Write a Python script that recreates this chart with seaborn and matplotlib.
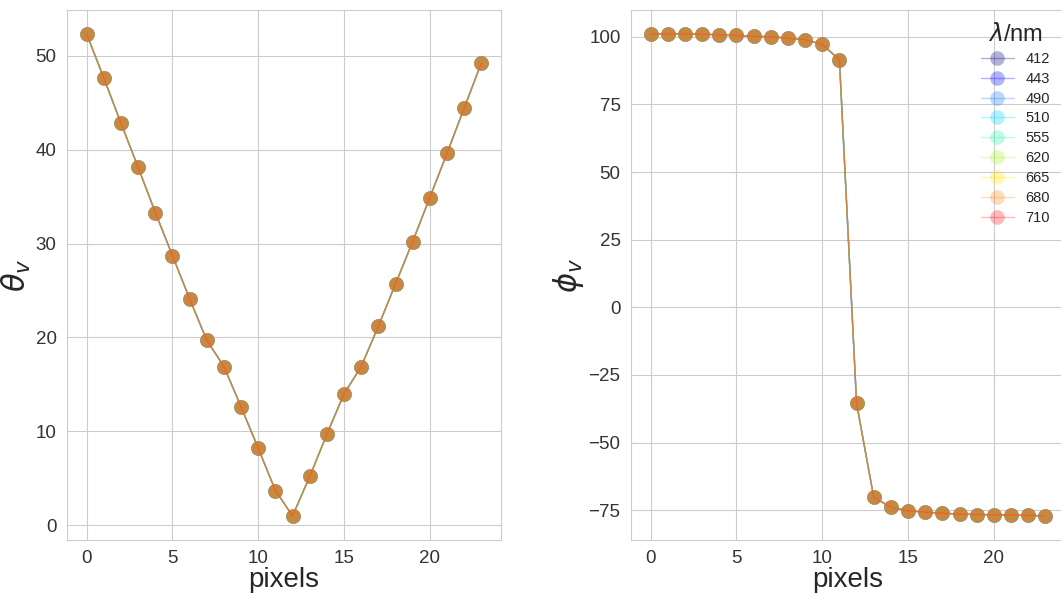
import numpy as np
import pandas as pd
import seaborn as sns
import matplotlib
matplotlib.use('Agg')
import matplotlib.pyplot as plt

# pixel index along the scan
pixels = list(range(24))

# viewing zenith angle (same for every band)
theta_v = [52.3, 47.6, 42.8, 38.1, 33.3, 28.7, 24.1, 19.7, 16.9, 12.6, 8.2, 3.7,
           1.0, 5.2, 9.7, 14.0, 16.9, 21.2, 25.7, 30.2, 34.9, 39.6, 44.4, 49.2]

# viewing azimuth angle (same for every band)
phi_v = [101.0, 101.0, 101.0, 101.0, 100.7, 100.5, 100.2, 100.0, 99.5, 98.9, 97.2, 91.5,
         -35.5, -70.2, -73.9, -75.2, -75.7, -76.1, -76.4, -76.6, -76.7, -76.8, -76.9, -77.1]

# wavelengths (nm)
bandas = ['412', '443', '490', '510', '555', '620', '665', '680', '710']
cores = ['#000080', '#0000ff', '#1e7bff', '#00d5ff', '#2ef5a6',
         '#a8f52e', '#ffe600', '#ff8c1a', '#ff1a1a']

linhas = []
for b in bandas:
    for p, t, f in zip(pixels, theta_v, phi_v):
        linhas.append({'pixels': p, 'theta': t, 'phi': f, 'banda': b})
dados = pd.DataFrame(linhas)

sns.set_style('whitegrid')
plt.rcParams['font.family'] = ['Liberation Sans', 'DejaVu Sans']

fig = plt.figure(figsize=(10.61, 5.93), dpi=100)
ax1 = fig.add_axes([67/1061, 53/593, 434/1061, 530/593])
ax2 = fig.add_axes([631/1061, 53/593, 434/1061, 530/593])

estilo = dict(hue='banda', palette=cores, marker='o', markersize=10.5,
              markeredgewidth=0, alpha=0.3, linewidth=1, data=dados)

sns.lineplot(x='pixels', y='theta', ax=ax1, legend=False, **estilo)
sns.lineplot(x='pixels', y='phi', ax=ax2, **estilo)

for ax in (ax1, ax2):
    ax.set_xlabel('pixels', fontsize=20, labelpad=0)
    ax.tick_params(labelsize=13.5, colors='#333333', pad=4)
    ax.set_xticks([0, 5, 10, 15, 20])

ax1.set_ylabel(r'$\theta_v$', fontsize=22, labelpad=2)
ax2.set_ylabel(r'$\phi_v$', fontsize=22, labelpad=2)
ax1.set_yticks([0, 10, 20, 30, 40, 50])
ax2.set_yticks([-75, -50, -25, 0, 25, 50, 75, 100])

leg = ax2.legend(title=r'$\lambda$/nm', loc='upper right', bbox_to_anchor=(0.995, 1.0),
                 fontsize=10.5, title_fontsize=17, frameon=False,
                 handlelength=2.2, labelspacing=0.4)

fig.savefig('out.png', dpi=100)
